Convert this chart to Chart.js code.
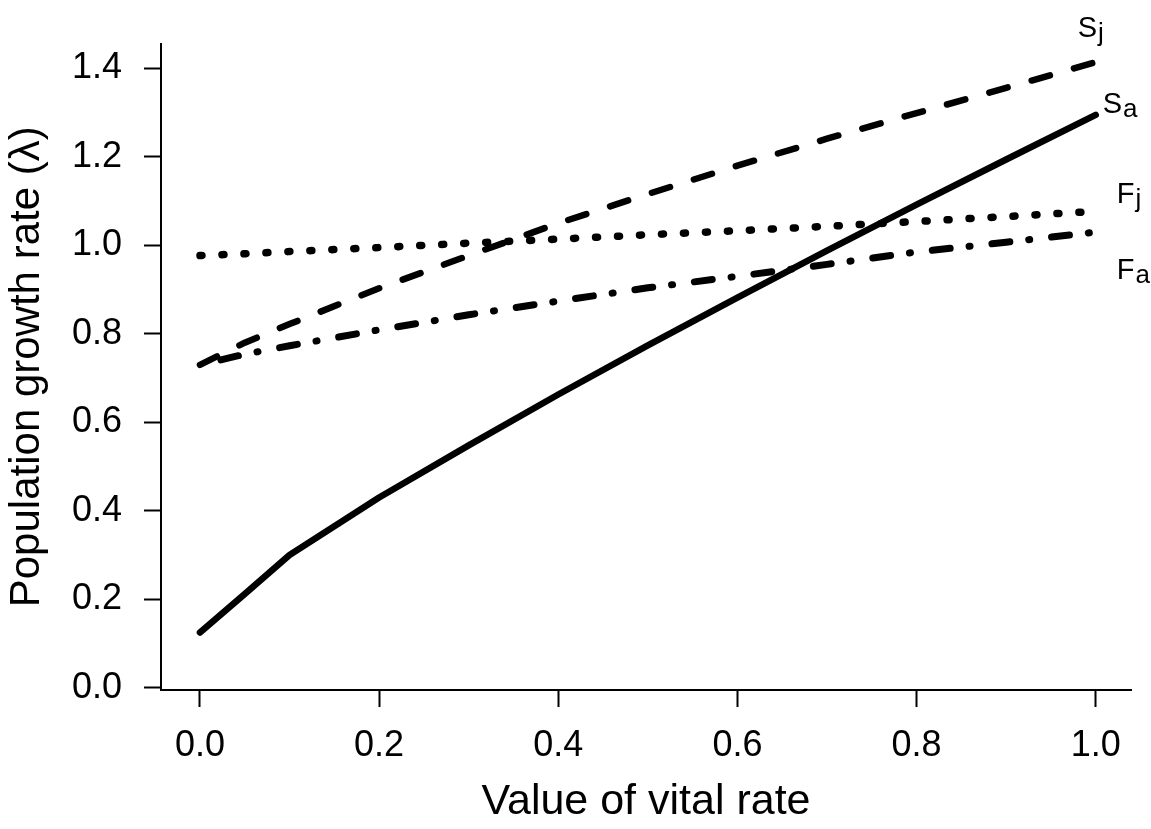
<!DOCTYPE html>
<html>
<head>
<meta charset="utf-8">
<title>Population growth rate vs value of vital rate</title>
<script src="https://cdn.jsdelivr.net/npm/chart.js@4.4.1/dist/chart.umd.min.js"></script>
<style>
  html, body { margin: 0; padding: 0; background: #fff; }
  canvas { display: block; }
</style>
</head>
<body>
<canvas id="lambdaChart" width="1151" height="829"></canvas>
<script>
// values
const vitalRate = [0, 0.05, 0.1, 0.2, 0.3, 0.4, 0.5, 0.6, 0.7, 0.8, 0.9, 1.0];
const lambdaSj = [0.73, 0.78, 0.822, 0.903, 0.977, 1.05, 1.116, 1.18, 1.241, 1.299, 1.356, 1.414];
const lambdaSa = [0.125, 0.212, 0.30, 0.43, 0.548, 0.663, 0.774, 0.882, 0.988, 1.092, 1.194, 1.295];
const lambdaFj = [0.977, 0.981, 0.986, 0.995, 1.005, 1.014, 1.024, 1.033, 1.043, 1.054, 1.065, 1.077];
const lambdaFa = [0.73, 0.754, 0.773, 0.809, 0.843, 0.874, 0.904, 0.93, 0.957, 0.985, 1.007, 1.03];

const xTicks = [0, 0.2, 0.4, 0.6, 0.8, 1.0];
const yTicks = [0, 0.2, 0.4, 0.6, 0.8, 1.0, 1.2, 1.4];

// curve names drawn at the right-hand end of each line
const labelMain = ['S', 'S', 'F', 'F'];
const labelSub = ['j', 'a', 'j', 'a'];
const labelOffsets = [[-18, -25], [7, -2], [21, -8], [21, 47]];

const FONT = "'Liberation Sans', Arial, Helvetica, sans-serif";

function toPoints(ys) {
    return vitalRate.map((x, i) => ({ x: x, y: ys[i] }));
}

/**
 * Draw S_j, S_a, F_j, F_a next to the line ends
 */
const endLabels = {
    id: 'endLabels',
    afterDatasetsDraw(chart) {
        const ctx = chart.ctx;
        ctx.save();
        ctx.fillStyle = '#000';
        ctx.textBaseline = 'alphabetic';
        ctx.textAlign = 'left';
        chart.data.datasets.forEach((ds, i) => {
            const pts = chart.getDatasetMeta(i).data;
            const last = pts[pts.length - 1];
            let x = last.x + labelOffsets[i][0];
            const y = last.y + labelOffsets[i][1];
            ctx.font = '29px ' + FONT;
            ctx.fillText(labelMain[i], x, y);
            x += ctx.measureText(labelMain[i]).width + 1;
            ctx.font = '26px ' + FONT;
            ctx.fillText(labelSub[i], x, y + 4);
        });
        ctx.restore();
    }
};

const lineBase = {
    borderColor: '#000',
    pointRadius: 0,
    tension: 0,
    fill: false,
    borderCapStyle: 'round',
    borderJoinStyle: 'round'
};

new Chart(document.getElementById('lambdaChart'), {
    type: 'line',
    data: {
        datasets: [
            Object.assign({}, lineBase, {
                label: 'Sj',
                data: toPoints(lambdaSj),
                borderWidth: 6.5,
                borderDash: [19, 25]
            }),
            Object.assign({}, lineBase, {
                label: 'Sa',
                data: toPoints(lambdaSa),
                borderWidth: 6.5
            }),
            Object.assign({}, lineBase, {
                label: 'Fj',
                data: toPoints(lambdaFj),
                borderWidth: 7.5,
                borderDash: [2, 20]
            }),
            Object.assign({}, lineBase, {
                label: 'Fa',
                data: toPoints(lambdaFa),
                borderWidth: 7,
                borderDash: [18, 19, 1, 22],
                borderDashOffset: 38.5
            })
        ]
    },
    options: {
        responsive: false,
        animation: false,
        devicePixelRatio: 1,
        layout: { padding: { left: 0, right: 20, top: 38, bottom: 0 } },
        plugins: {
            legend: { display: false },
            tooltip: { enabled: false }
        },
        scales: {
            x: {
                type: 'linear',
                min: -0.0435,
                max: 1.0394,
                afterBuildTicks: (scale) => { scale.ticks = xTicks.map(v => ({ value: v })); },
                afterFit: (scale) => { scale.height = 139; },
                border: { display: true, color: '#000', width: 2 },
                grid: {
                    drawOnChartArea: false,
                    drawTicks: true,
                    tickLength: 17,
                    tickWidth: 2,
                    tickColor: '#000'
                },
                ticks: {
                    autoSkip: false,
                    maxRotation: 0,
                    color: '#000',
                    padding: 17,
                    font: { family: FONT, size: 36 },
                    callback: (v) => Number(v).toFixed(1)
                },
                title: {
                    display: true,
                    text: 'Value of vital rate',
                    color: '#000',
                    font: { family: FONT, size: 43 },
                    padding: { top: 0, bottom: 1 }
                }
            },
            y: {
                type: 'linear',
                min: -0.005,
                max: 1.456,
                afterBuildTicks: (scale) => { scale.ticks = yTicks.map(v => ({ value: v })); },
                afterFit: (scale) => { scale.width = 161; },
                border: { display: true, color: '#000', width: 2 },
                grid: {
                    drawOnChartArea: false,
                    drawTicks: true,
                    tickLength: 17,
                    tickWidth: 2,
                    tickColor: '#000'
                },
                ticks: {
                    autoSkip: false,
                    color: '#000',
                    padding: 22,
                    font: { family: FONT, size: 36 },
                    callback: (v) => Number(v).toFixed(1)
                },
                title: {
                    display: true,
                    text: 'Population growth rate (λ)',
                    color: '#000',
                    font: { family: FONT, size: 42 },
                    padding: { top: 2, bottom: 0 }
                }
            }
        }
    },
    plugins: [endLabels]
});
</script>
</body>
</html>
